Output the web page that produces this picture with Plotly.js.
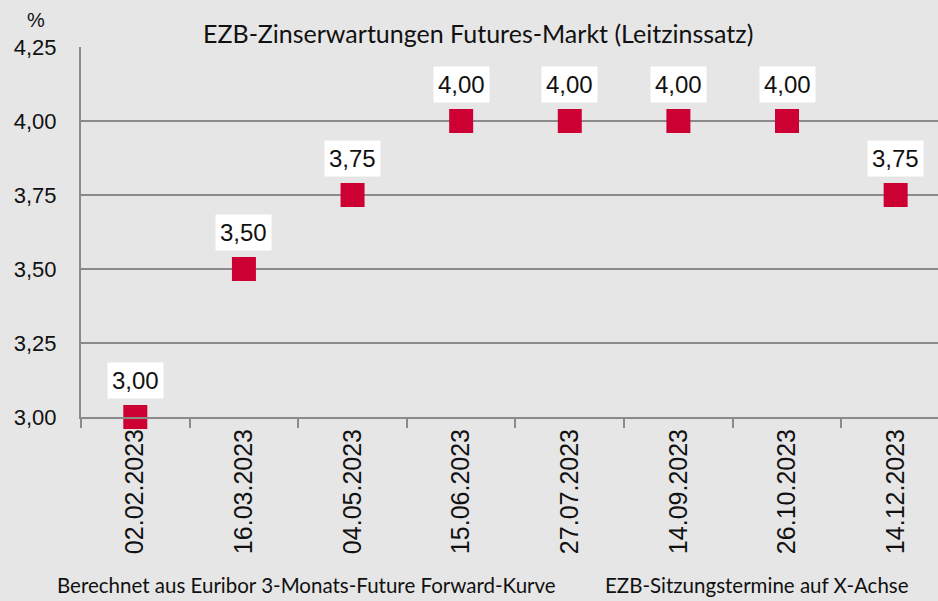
<!DOCTYPE html>
<html>
<head>
<meta charset="utf-8">
<script src="https://cdn.plot.ly/plotly-3.0.1.min.js"></script>
<style>html,body{margin:0;padding:0;background:#e6e6e6;}#chart{width:938px;height:601px;}</style>
</head>
<body>
<div id="chart"></div>
<script>
const dates = ["02.02.2023","16.03.2023","04.05.2023","15.06.2023","27.07.2023","14.09.2023","26.10.2023","14.12.2023"];
const rates = [3.00, 3.50, 3.75, 4.00, 4.00, 4.00, 4.00, 3.75];
const rateLabels = ["3,00","3,50","3,75","4,00","4,00","4,00","4,00","3,75"];
const yTickVals = [3.00, 3.25, 3.50, 3.75, 4.00, 4.25];
const yTickText = ["3,00","3,25","3,50","3,75","4,00","4,25"];
const titleText = "EZB-Zinserwartungen Futures-Markt (Leitzinssatz)";
const noteLeft = "Berechnet aus Euribor 3-Monats-Future Forward-Kurve";
const noteRight = "EZB-Sitzungstermine auf X-Achse";

const bg = "#e6e6e6";
const grid = "#8a8a8a";

const trace = {
  type: "scatter", mode: "markers",
  x: dates, y: rates,
  marker: {symbol: "square", size: 24, color: "#cc0033"},
  cliponaxis: false, hoverinfo: "skip"
};

const annotations = dates.map((d, i) => ({
  x: d, y: rates[i], xref: "x", yref: "y",
  text: rateLabels[i], showarrow: false, yshift: 37,
  xanchor: "center", yanchor: "middle",
  bgcolor: "#ffffff", borderpad: 4,
  font: {family: "Liberation Sans, Arial, sans-serif", size: 24, color: "#111"}
}));

annotations.push({
  xref: "paper", yref: "paper", x: 0.4627, y: 1, yshift: 14,
  xanchor: "center", yanchor: "middle",
  text: titleText, showarrow: false, bgcolor: bg, borderpad: 8,
  font: {family: "Lato, sans-serif", size: 25, color: "#111"}
});
annotations.push({
  xref: "paper", yref: "paper", x: -0.0525, y: 1, yshift: 27,
  xanchor: "center", yanchor: "middle",
  text: "%", showarrow: false,
  font: {family: "Liberation Sans, Arial, sans-serif", size: 20, color: "#111"}
});
annotations.push({
  xref: "paper", yref: "paper", x: 0.263, y: 0, yshift: -168,
  xanchor: "center", yanchor: "middle",
  text: noteLeft, showarrow: false,
  font: {family: "Lato, sans-serif", size: 20.5, color: "#111"}
});
annotations.push({
  xref: "paper", yref: "paper", x: 0.789, y: 0, yshift: -168,
  xanchor: "center", yanchor: "middle",
  text: noteRight, showarrow: false,
  font: {family: "Lato, sans-serif", size: 20.5, color: "#111"}
});

const layout = {
  width: 938, height: 601,
  paper_bgcolor: bg, plot_bgcolor: bg,
  margin: {l: 81, r: 0, t: 47, b: 184},
  showlegend: false,
  xaxis: {
    type: "category", range: [-0.5, 7.39],
    showgrid: false, zeroline: false,
    showline: true, linecolor: grid, linewidth: 2,
    ticks: "outside", tickson: "boundaries", ticklen: 9, tickwidth: 2, tickcolor: grid,
    tickangle: -90,
    tickfont: {family: "Liberation Sans, Arial, sans-serif", size: 25, color: "#111"}
  },
  yaxis: {
    range: [3, 4.25], tickvals: yTickVals, ticktext: yTickText,
    showgrid: true, gridcolor: grid, gridwidth: 2, zeroline: false,
    showline: true, linecolor: grid, linewidth: 2,
    ticks: "", ticklabelstandoff: 18,
    tickfont: {family: "Liberation Sans, Arial, sans-serif", size: 22, color: "#111"}
  },
  annotations: annotations
};

Plotly.newPlot("chart", [trace], layout, {displayModeBar: false, staticPlot: true});
</script>
</body>
</html>
